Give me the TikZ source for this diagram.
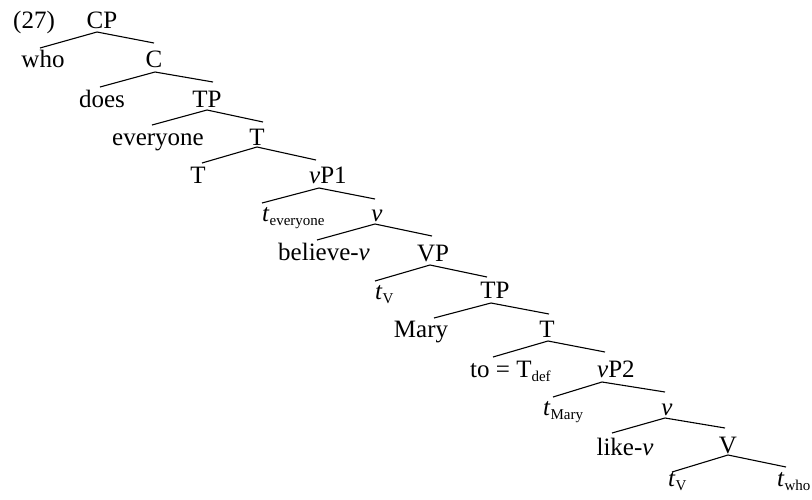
\documentclass[tikz,border=0pt]{standalone}
\usepackage{fontspec}
\setmainfont{Liberation Serif}
\newcommand{\sbs}[1]{\raisebox{-4pt}{\fontsize{15}{15}\selectfont #1}}
\newcommand{\tr}[1]{\textit{t}\sbs{#1}}
\begin{document}
\begin{tikzpicture}[x=1pt,y=-1pt,
  lab/.style={inner sep=0pt,font=\fontsize{25}{25}\selectfont},
  lc/.style={lab,anchor=base},
  lw/.style={lab,anchor=base west},
  branch/.style={line width=1.1pt}]
\useasboundingbox (0,0) rectangle (812,499);
% labels
\node[lw] (ex) at (13,28) {(27)};
\node[lc] (cp) at (102,28) {CP};
\node[lc] (who) at (43,67) {who};
\node[lc] (c1) at (154,67) {C};
\node[lc] (does) at (102,107) {does};
\node[lc] (tp1) at (207,107) {TP};
\node[lc] (every) at (158,145) {everyone};
\node[lc] (tb1) at (257,145) {T};
\node[lc] (t1) at (198,183) {T};
\node[lw] (vp1) at (309,183) {\textit{v}P1};
\node[lw] (tev) at (262,221) {\tr{everyone}};
\node[lc] (vb1) at (377,221) {\textit{v}};
\node[lc] (bel) at (324,260) {believe-\textit{v}};
\node[lc] (vp) at (433,261) {VP};
\node[lw] (tv1) at (375,299) {\tr{V}};
\node[lc] (tp2) at (495,298) {TP};
\node[lc] (mary) at (421,337) {Mary};
\node[lc] (tb2) at (547,337) {T};
\node[lw] (to) at (470,377) {to = T\sbs{def}};
\node[lw] (vp2) at (597,377) {\textit{v}P2};
\node[lw] (tmary) at (543,415) {\tr{Mary}};
\node[lc] (vb2) at (667,415) {\textit{v}};
\node[lc] (like) at (625,455) {like-\textit{v}};
\node[lc] (vv) at (728,453) {V};
\node[lw] (tv2) at (668,486) {\tr{V}};
\node[lw] (twho) at (777,486) {\tr{who}};
% attachment points
\coordinate (cpA) at (97,32);   \coordinate (whoT) at (40,48);   \coordinate (c1T) at (154,43);
\coordinate (c1A) at (155,72);  \coordinate (doesT) at (100,87); \coordinate (tp1T) at (213,82);
\coordinate (tp1A) at (207,110);\coordinate (everyT) at (152,125);\coordinate (tb1T) at (263,122);
\coordinate (tb1A) at (257,147);\coordinate (t1T) at (202,163);  \coordinate (vp1T) at (316,160);
\coordinate (vp1A) at (319,188);\coordinate (tevT) at (262,203); \coordinate (vb1T) at (375,199);
\coordinate (vb1A) at (375,224);\coordinate (belT) at (317,240); \coordinate (vpT) at (432,236);
\coordinate (vpA) at (430,265); \coordinate (tv1T) at (375,281); \coordinate (tp2T) at (487,277);
\coordinate (tp2A) at (491,303);\coordinate (maryT) at (434,318);\coordinate (tb2T) at (549,314);
\coordinate (tb2A) at (548,341);\coordinate (toT) at (493,357);  \coordinate (vp2T) at (605,352);
\coordinate (vp2A) at (602,382);\coordinate (tmaryT) at (553,397);\coordinate (vb2T) at (665,392);
\coordinate (vb2A) at (665,418);\coordinate (likeT) at (612,433);\coordinate (vvT) at (725,428);
\coordinate (vvA) at (728,455); \coordinate (tv2T) at (672,472); \coordinate (twhoT) at (786,467);
% branches
\draw[branch] (whoT) -- (cpA) -- (c1T);
\draw[branch] (doesT) -- (c1A) -- (tp1T);
\draw[branch] (everyT) -- (tp1A) -- (tb1T);
\draw[branch] (t1T) -- (tb1A) -- (vp1T);
\draw[branch] (tevT) -- (vp1A) -- (vb1T);
\draw[branch] (belT) -- (vb1A) -- (vpT);
\draw[branch] (tv1T) -- (vpA) -- (tp2T);
\draw[branch] (maryT) -- (tp2A) -- (tb2T);
\draw[branch] (toT) -- (tb2A) -- (vp2T);
\draw[branch] (tmaryT) -- (vp2A) -- (vb2T);
\draw[branch] (likeT) -- (vb2A) -- (vvT);
\draw[branch] (tv2T) -- (vvA) -- (twhoT);
\end{tikzpicture}
\end{document}
